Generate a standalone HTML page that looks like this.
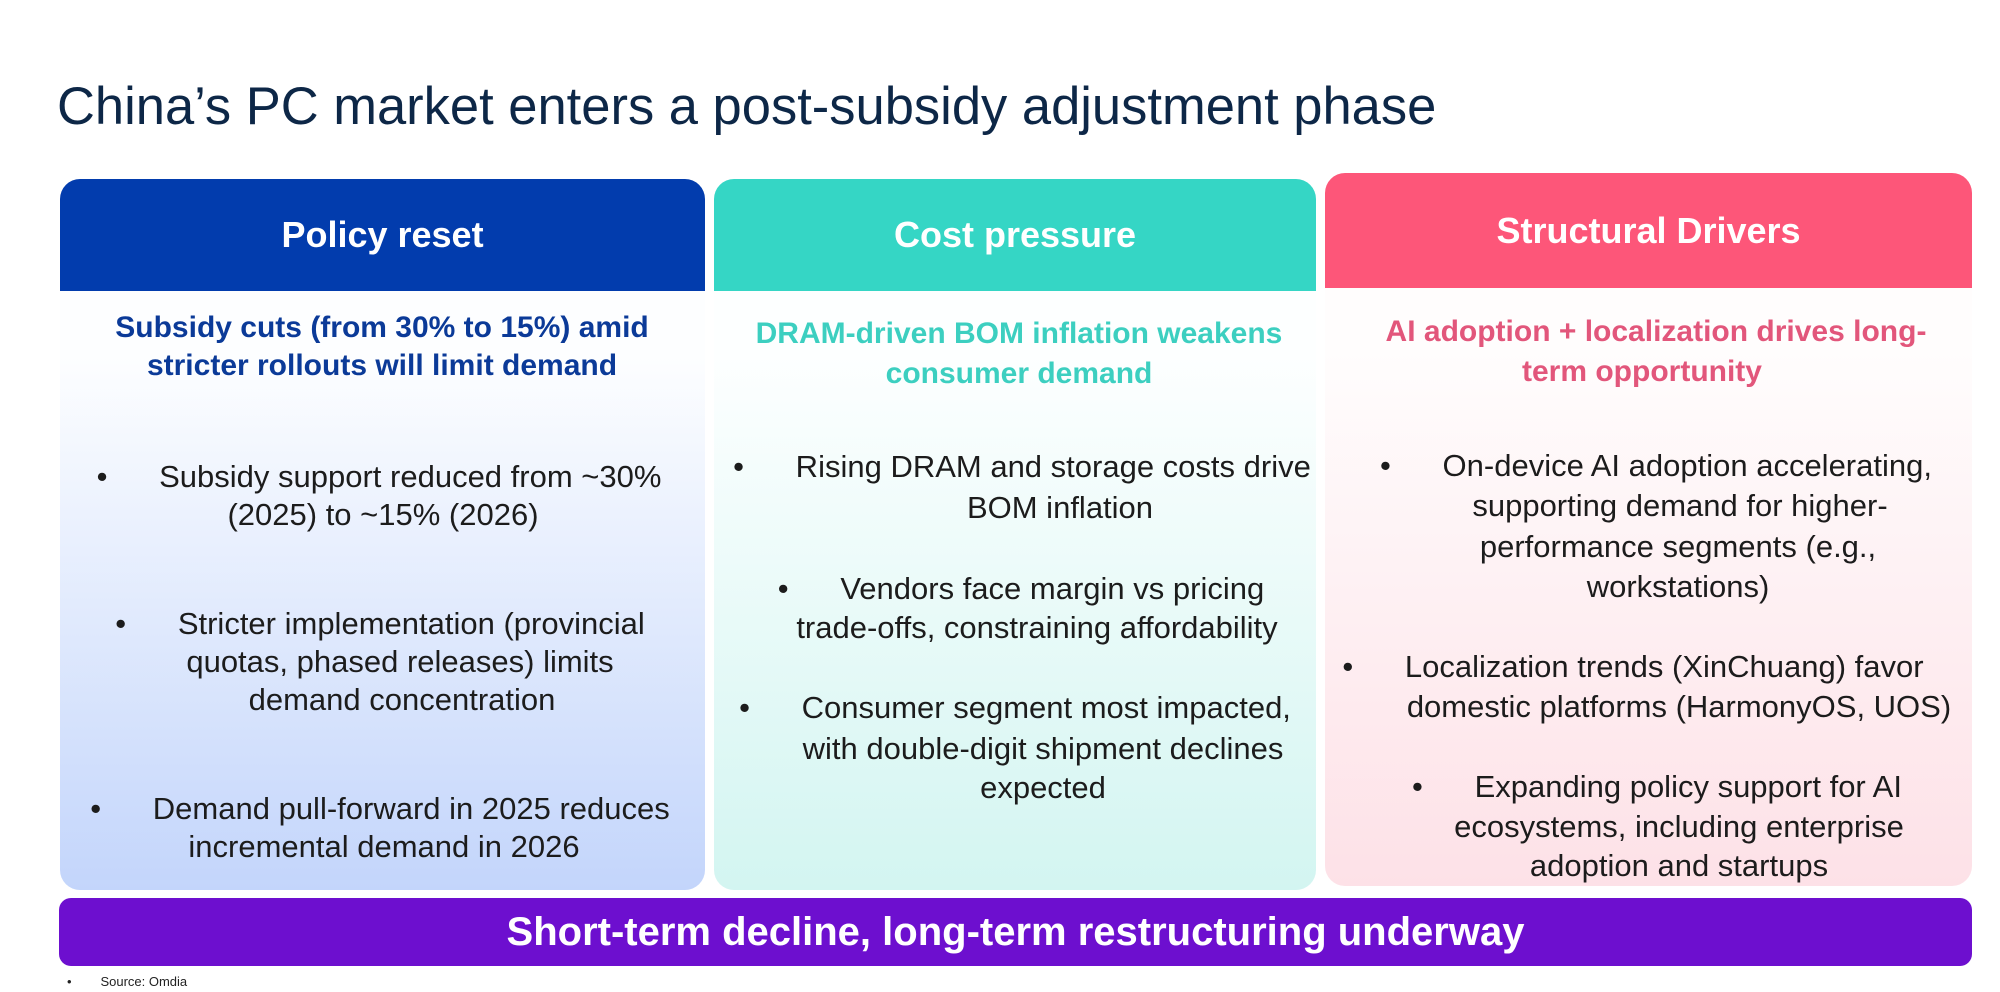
<!DOCTYPE html>
<html><head><meta charset="utf-8"><style>
*{margin:0;padding:0;box-sizing:border-box}
body{width:2000px;height:992px;background:#fff;position:relative;overflow:hidden;font-family:"Liberation Sans",sans-serif}
.t{position:absolute;left:57px;top:76px;font-size:52.5px;color:#0d2747;white-space:nowrap}
.p{position:absolute;border-radius:20px;overflow:hidden}
.h{position:absolute;left:0;right:0;top:0;color:#fff;font-weight:bold;font-size:36px;display:flex;align-items:center;justify-content:center}
.l{position:absolute;transform:translate(-50%,-50%);white-space:nowrap;font-size:31px;color:#1c1c1c}
.s{font-weight:bold;font-size:30px}
</style></head><body>
<div class="t">China’s PC market enters a post-subsidy adjustment phase</div>

<div class="p" style="left:60px;top:179px;width:645px;height:711px;background:linear-gradient(#fdfeff 25%,#c3d5fb)">
<div class="h" style="height:112px;background:#023cad">Policy reset</div></div>
<div class="p" style="left:714px;top:179px;width:602px;height:711px;background:linear-gradient(#fdffff 25%,#d3f5f1)">
<div class="h" style="height:112px;background:#35d6c5">Cost pressure</div></div>
<div class="p" style="left:1325px;top:173px;width:647px;height:713px;background:linear-gradient(#fffdfd 25%,#fde1e7)">
<div class="h" style="height:115px;background:#fd5679">Structural Drivers</div></div>

<div class="p" style="left:59px;top:898px;width:1913px;height:68px;border-radius:12px;background:#6d0fcf;color:#fff;font-weight:bold;font-size:40px;display:flex;align-items:center;justify-content:center">Short-term decline, long-term restructuring underway</div>
<div style="position:absolute;left:67px;top:974px;font-size:13px;color:#222">•&nbsp;&nbsp;&nbsp;&nbsp;&nbsp;&nbsp;&nbsp;&nbsp;Source: Omdia</div>

<!-- panel 1 -->
<div class="l s" style="left:382px;top:328px;color:#0b3a98">Subsidy cuts (from 30% to 15%) amid</div>
<div class="l s" style="left:382px;top:366px;color:#0b3a98">stricter rollouts will limit demand</div>
<div class="l" style="left:379px;top:477px">•&nbsp;&nbsp;&nbsp;&nbsp;&nbsp;&nbsp;Subsidy support reduced from ~30%</div>
<div class="l" style="left:383px;top:515px">(2025) to ~15% (2026)</div>
<div class="l" style="left:380px;top:624px">•&nbsp;&nbsp;&nbsp;&nbsp;&nbsp;&nbsp;Stricter implementation (provincial</div>
<div class="l" style="left:400px;top:662px">quotas, phased releases) limits</div>
<div class="l" style="left:402px;top:700px">demand concentration</div>
<div class="l" style="left:380px;top:809px">•&nbsp;&nbsp;&nbsp;&nbsp;&nbsp;&nbsp;Demand pull-forward in 2025 reduces</div>
<div class="l" style="left:384px;top:847px">incremental demand in 2026</div>

<!-- panel 2 -->
<div class="l s" style="left:1019px;top:334px;color:#3ccfc0">DRAM-driven BOM inflation weakens</div>
<div class="l s" style="left:1019px;top:374px;color:#3ccfc0">consumer demand</div>
<div class="l" style="left:1022px;top:467px">•&nbsp;&nbsp;&nbsp;&nbsp;&nbsp;&nbsp;Rising DRAM and storage costs drive</div>
<div class="l" style="left:1060px;top:508px">BOM inflation</div>
<div class="l" style="left:1021px;top:589px">•&nbsp;&nbsp;&nbsp;&nbsp;&nbsp;&nbsp;Vendors face margin vs pricing</div>
<div class="l" style="left:1037px;top:628px">trade-offs, constraining affordability</div>
<div class="l" style="left:1015px;top:708px">•&nbsp;&nbsp;&nbsp;&nbsp;&nbsp;&nbsp;Consumer segment most impacted,</div>
<div class="l" style="left:1043px;top:749px">with double-digit shipment declines</div>
<div class="l" style="left:1043px;top:788px">expected</div>

<!-- panel 3 -->
<div class="l s" style="left:1656px;top:332px;color:#e2567b">AI adoption + localization drives long-</div>
<div class="l s" style="left:1642px;top:372px;color:#e2567b">term opportunity</div>
<div class="l" style="left:1656px;top:466px">•&nbsp;&nbsp;&nbsp;&nbsp;&nbsp;&nbsp;On-device AI adoption accelerating,</div>
<div class="l" style="left:1680px;top:506px">supporting demand for higher-</div>
<div class="l" style="left:1678px;top:547px">performance segments (e.g.,</div>
<div class="l" style="left:1678px;top:587px">workstations)</div>
<div class="l" style="left:1633px;top:667px">•&nbsp;&nbsp;&nbsp;&nbsp;&nbsp;&nbsp;Localization trends (XinChuang) favor</div>
<div class="l" style="left:1679px;top:707px">domestic platforms (HarmonyOS, UOS)</div>
<div class="l" style="left:1657px;top:787px">•&nbsp;&nbsp;&nbsp;&nbsp;&nbsp;&nbsp;Expanding policy support for AI</div>
<div class="l" style="left:1679px;top:827px">ecosystems, including enterprise</div>
<div class="l" style="left:1679px;top:866px">adoption and startups</div>
</body></html>
